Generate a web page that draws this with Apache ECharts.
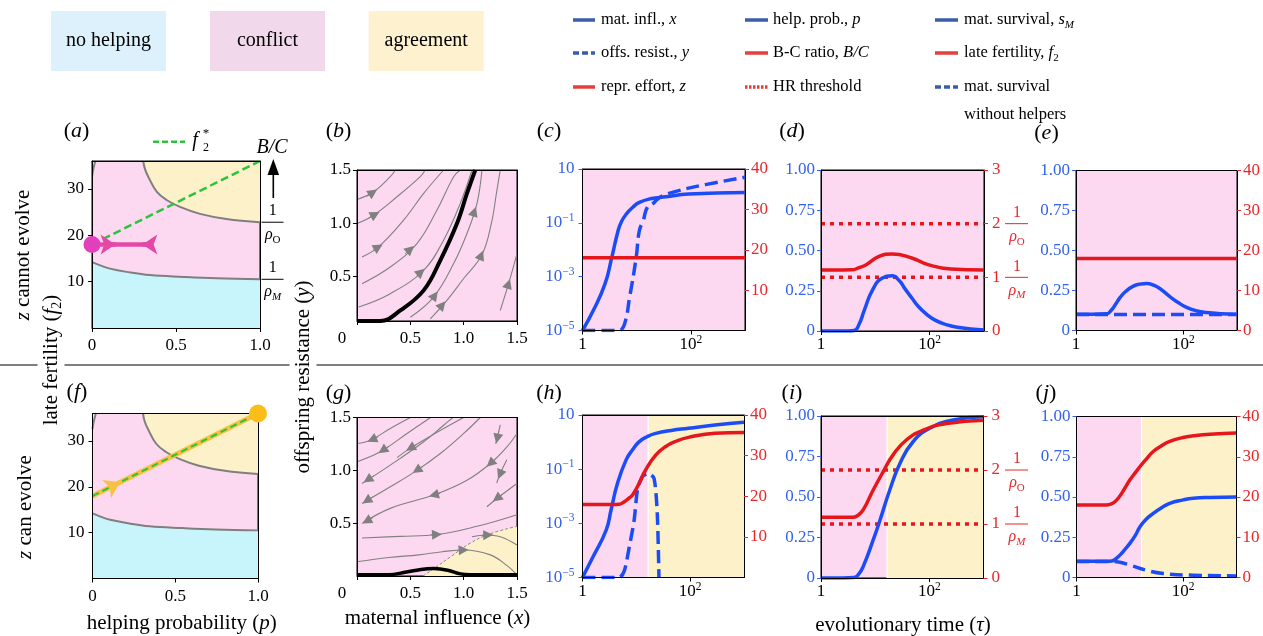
<!DOCTYPE html>
<html><head><meta charset="utf-8">
<script src="https://cdn.jsdelivr.net/npm/echarts@6/dist/echarts.min.js"></script>
<style>html,body{margin:0;padding:0;background:#fff}#c{width:1263px;height:636px}</style>
</head><body><div id="c"></div>
<script>
// ---------------- DATA ----------------
// panels (a),(f): region boundaries in (p, f2)
const pLow = [0, 0.048, 0.107, 0.206, 0.345, 0.544, 0.742, 1.0];
const fLow = [14.2, 13.5, 12.8, 12.1, 11.4, 11.0, 10.7, 10.5];
const pUp = [0.305, 0.315, 0.335, 0.385, 0.444, 0.524, 0.643, 0.8, 1.0];
const fUp = [36, 34.3, 32.6, 29.4, 27.6, 26.1, 24.6, 23.5, 22.8];
const pCorner = [0, 0.006, 0.02];
const fCorner = [32.6, 34.0, 36];
const f2StarP = [0, 1];
const f2StarF = [18, 36];
const magP = [0, 0.345];
const magF = [18, 18];
const magDot = [0, 18];
const magArrows = [[[0.08, 18], [0.14, 18]], [[0.345, 18], [0.30, 18]]];
const orangeDot = [1, 36];
const orangeArrows = [[[0.10, 19.8], [0.166, 20.99]]];

// panel (b): streamlines (x, y)
const bStream = [
  [[0,1.223],[0.156,1.295],[0.312,1.437],[0.36,1.5]],
  [[0,0.997],[0.156,1.075],[0.375,1.248],[0.593,1.437],[0.64,1.5]],
  [[0.047,0.682],[0.203,0.777],[0.437,1.028],[0.625,1.28],[0.812,1.5]],
  [[0.047,0.431],[0.312,0.588],[0.562,0.808],[0.75,1.123],[0.906,1.437],[0.968,1.5]],
  [[0.016,0.211],[0.312,0.337],[0.625,0.557],[0.812,0.84],[0.968,1.186],[1.078,1.5]],
  [[0.5,0.116],[0.718,0.305],[0.906,0.62],[1.031,0.903],[1.125,1.186],[1.171,1.5]],
  [[0.687,0.1],[0.843,0.274],[1.0,0.48],[1.17,0.7],[1.26,1.0],[1.31,1.3],[1.343,1.5]],
  [[1.343,0.179],[1.421,0.431],[1.5,0.714]]
];
const bBlack = [[0,0.08],[0.218,0.08],[0.406,0.179],[0.625,0.368],[0.781,0.651],[0.937,0.997],[1.031,1.28],[1.109,1.5]];
const bArrows = [
  [[0.09,1.25],[0.15,1.29]], [[0.11,1.05],[0.17,1.083]], [[0.15,0.745],[0.2,0.775]],
  [[0.45,0.71],[0.5,0.755]], [[0.56,0.505],[0.6,0.54]], [[0.7,0.28],[0.73,0.322]],
  [[1.085,1.065],[1.1,1.11]], [[0.77,0.195],[0.8,0.23]], [[1.15,0.665],[1.165,0.7]],
  [[1.41,0.4],[1.42,0.431]]
];

// panel (g)
const gBoundary = [[0.62,0],[0.75,0.09],[0.875,0.18],[1.06,0.31],[1.25,0.40],[1.5,0.47]];
const gStream = [
  [[0,1.254],[0.125,1.285],[0.312,1.396],[0.5,1.5]],
  [[0,1.081],[0.218,1.175],[0.469,1.349],[0.69,1.5]],
  [[0.047,0.876],[0.312,1.049],[0.625,1.27],[0.812,1.427],[0.9,1.5]],
  [[0.375,1.12],[0.5,1.21],[0.75,1.36],[1.0,1.5]],
  [[0.047,0.687],[0.312,0.844],[0.562,1.0],[0.781,1.159],[1.0,1.349],[1.156,1.5]],
  [[0.047,0.498],[0.312,0.64],[0.718,0.766],[1.031,0.907],[1.25,1.065],[1.405,1.222],[1.5,1.349]],
  [[0.047,0.36],[0.406,0.375],[0.75,0.392],[1.125,0.47],[1.5,0.58]],
  [[0,0.135],[0.3,0.175],[0.578,0.2],[0.8,0.23],[1.0,0.246],[1.25,0.2],[1.405,0.1],[1.5,0.01]],
  [[1.078,0.372],[1.203,0.388],[1.343,0.372],[1.5,0.293]],
  [[1.218,0.655],[1.312,0.734],[1.5,0.876]],
  [[1.31,0.88],[1.343,0.97],[1.405,1.1]],
  [[1.3,1.25],[1.32,1.33],[1.343,1.43]]
];
const gBlack = [[0,0.012],[0.3,0.012],[0.45,0.035],[0.6,0.062],[0.72,0.07],[0.85,0.055],[0.97,0.02],[1.06,0.012],[1.5,0.012]];
const gArrows = [
  [[0.2,1.318],[0.14,1.29]], [[0.3,1.23],[0.24,1.188]], [[0.16,0.95],[0.1,0.91]],
  [[0.56,1.245],[0.5,1.21]], [[0.15,0.75],[0.09,0.712]], [[0.62,1.04],[0.56,1.0]],
  [[0.15,0.553],[0.09,0.52]], [[0.78,0.782],[0.72,0.766]], [[1.3,1.11],[1.25,1.065]],
  [[0.69,0.389],[0.75,0.392]], [[0.94,0.242],[1.0,0.246]], [[1.17,0.386],[1.23,0.388]],
  [[1.36,0.77],[1.31,0.733]], [[1.36,1.01],[1.34,0.96]], [[1.33,1.37],[1.315,1.3]]
];

// panel (c)
const tC_x = [1, 1.58, 2.6, 3.44, 4.54, 5.25, 6.46, 8.5, 11.2, 17.8, 34.7, 91, 1000];
const vC_x = [1e-5, 5.5e-5, 5.4e-4, 4.8e-3, 0.051, 0.112, 0.214, 0.38, 0.575, 0.78, 0.93, 1.17, 1.35];
const tC_y = [1, 3.5, 4.9, 6.0, 7.4, 9.8, 11.2, 13.2, 15.8, 20, 24, 30, 60, 186, 1000];
const vC_y = [1e-5, 1e-5, 1.05e-5, 1.8e-5, 1.7e-4, 5.2e-3, 0.051, 0.12, 0.38, 0.52, 0.74, 1.0, 1.58, 2.63, 4.9];
const tC_z = [1, 1000];
const vC_z = [18, 18];
// panel (d)
const tD_bc = [1, 2.5, 3.7, 5.0, 6.8, 11.7, 20.4, 46.8, 93, 245, 1000];
const vD_bc = [1.137, 1.137, 1.14, 1.18, 1.236, 1.39, 1.436, 1.36, 1.236, 1.155, 1.137];
const tD_p = [1, 3.2, 4.1, 5.0, 6.3, 8.9, 13.5, 20.4, 28, 35.5, 47, 62, 87, 123, 200, 324, 1000];
const vD_p = [0, 0, 0.003, 0.04, 0.131, 0.256, 0.329, 0.343, 0.31, 0.26, 0.205, 0.152, 0.105, 0.069, 0.04, 0.023, 0.006];
const hrT = [1, 1000];
const hrVals = [1, 2];   // 1/rho_M, 1/rho_O
// panel (e)
const tE_s = [1, 2, 3.7, 4.5, 5.5, 6.6, 8.5, 11.7, 15.5, 20.9, 28, 38, 56, 80, 115, 180, 269, 500, 1000];
const vE_s = [0.102, 0.102, 0.104, 0.125, 0.165, 0.205, 0.245, 0.277, 0.29, 0.294, 0.283, 0.258, 0.212, 0.175, 0.145, 0.122, 0.112, 0.105, 0.102];
const tE_w = [1, 1000];
const vE_w = [0.1, 0.1];
const tE_f = [1, 1000];
const vE_f = [18, 18];
// panel (h)
const tH_x = [1, 1.57, 2.75, 3.39, 4.47, 6.46, 8.5, 11.2, 15.8, 22.9, 44.7, 93, 288, 1000];
const vH_x = [1e-5, 5.8e-5, 5.6e-4, 3.1e-3, 0.03, 0.22, 0.52, 1.02, 1.58, 2.09, 2.7, 3.24, 4.27, 5.37];
const tH_y = [1, 4.8, 6.0, 7.4, 9.1, 10.5, 12.9, 17, 21.4, 24.5, 26.3];
const vH_y = [1e-5, 1e-5, 1.8e-5, 1.35e-4, 1.3e-3, 0.017, 0.052, 0.069, 0.045, 2.3e-3, 1e-5];
const tH_z = [1, 3.5, 4.8, 5.6, 6.5, 7.4, 8.5, 11.2, 14.8, 22.9, 34.7, 56, 93, 288, 1000];
const vH_z = [18, 18, 18.05, 18.4, 19.0, 19.6, 20.3, 23.1, 26.4, 30.1, 32.2, 33.6, 34.5, 35.5, 35.7];
// panel (i)
const tI_bc = [1, 2.5, 3.85, 4.8, 6.0, 9.2, 14.1, 21.4, 38, 77.6, 209, 1000];
const vI_bc = [1.124, 1.124, 1.124, 1.16, 1.26, 1.63, 1.97, 2.28, 2.56, 2.74, 2.86, 2.92];
const tI_p = [1, 2.5, 4.1, 5.0, 6.0, 9.2, 12.3, 18.6, 28.8, 50, 102, 275, 1000];
const vI_p = [0, 0, 0.003, 0.025, 0.07, 0.235, 0.358, 0.543, 0.708, 0.841, 0.924, 0.975, 0.995];
// panel (j)
const tJ_f = [1, 2.5, 3.16, 4.0, 5.0, 6.3, 7.9, 10, 12.6, 15.8, 20, 27.5, 40, 56, 100, 155, 316, 1000];
const vJ_f = [18, 18, 18, 18.1, 18.6, 20.0, 22.0, 24.2, 26.0, 27.7, 29.3, 31.3, 32.8, 33.8, 34.8, 35.2, 35.6, 35.9];
const tJ_s = [1, 2.5, 3.6, 4.6, 5.2, 6.5, 7.9, 10, 12.6, 15.5, 20, 27.5, 40, 56, 100, 155, 316, 1000];
const vJ_s = [0.101, 0.101, 0.101, 0.103, 0.11, 0.139, 0.17, 0.212, 0.26, 0.315, 0.36, 0.398, 0.435, 0.461, 0.482, 0.492, 0.497, 0.5];
const tJ_w = [1, 3, 4.8, 6.5, 10, 20.4, 42.7, 155, 1000];
const vJ_w = [0.1, 0.1, 0.1, 0.095, 0.077, 0.045, 0.025, 0.014, 0.01];
const tSwitch = 16.6;   // conflict -> agreement
const tMax = 1000;

// tick labels
const xLabP = {vals:[0,0.5,1], labs:['0','0.5','1.0']};
const xLabX = {vals:[0,0.5,1,1.5], labs:['{z|0}','0.5','1.0','1.5']};
const yLabY = {vals:[0.5,1,1.5], labs:['0.5','1.0','1.5']};
const yLabF = {vals:[10,20,30], labs:['10','20','30']};
const xLabT = {vals:[1,100], labs:['1','10{sup|2}']};
const yLabLog = {vals:[1e-5,1e-3,1e-1,10], labs:['10{sup|−5}','10{sup|−3}','10{sup|−1}','10']};
const yLabFrac = {vals:[0,0.25,0.5,0.75,1], labs:['0','0.25','0.50','0.75','1.00']};
const yLabR40 = {vals:[10,20,30,40], labs:['10','20','30','40']};
const yLabR40z = {vals:[0,10,20,30,40], labs:['0','10','20','30','40']};
const yLabR3 = {vals:[0,1,2,3], labs:['0','1','2','3']};

// ---------------- STYLE ----------------
const FONT = 'Liberation Serif';
const GRAY = '#7f7f7f', PINK = '#fcd9f0', CYAN = '#c8f5fc', YEL = '#fdf1c9';
const BLUE = '#1c4cf5', RED = '#e6161d', BLUE_T = '#3362ee', RED_T = '#e8272b';
const GREEN = '#2cc33c', ORANGE = '#f7c142', ORANGE_DOT = '#fbbd18', MAG = '#e448a6', MAG_DOT = '#e23fbd';
const LEG_BLUE = '#3a5cab', LEG_RED = '#e4403c';
const DASH = [13, 6], DOT = [4, 5];
const SM = 0.5;

const zip = (a, b) => a.map((v, i) => [v, b[i]]);
function fmt(vals, labs) {
  return function (v) {
    for (let i = 0; i < vals.length; i++) {
      if (Math.abs(vals[i] - v) <= 1e-6 * Math.max(Math.abs(vals[i]), 1e-9)) return labs[i];
      if (vals[i] === 0 && Math.abs(v) < 1e-12) return labs[i];
    }
    return '';
  };
}
const AXR = {
  n: {fontFamily: FONT, fontSize: 17, lineHeight: 22},
  sup: {fontFamily: FONT, fontSize: 11.5, lineHeight: 11, verticalAlign: 'top'},
  z: {fontFamily: FONT, fontSize: 17, lineHeight: 22, padding: [0, 30, 0, 0]}
};
function mkAxis(o) {
  const color = o.color || '#000';
  const ax = {
    gridIndex: o.grid, type: o.type || 'value', position: o.pos, min: o.min, max: o.max, z: 10,
    axisLine: {show: true, onZero: false, lineStyle: {color: '#000', width: 1}},
    axisTick: {show: true, length: 4, customValues: o.lab.vals, lineStyle: {color: color, width: 1}},
    axisLabel: {show: true, customValues: o.lab.vals, formatter: fmt(o.lab.vals, o.lab.labs), color: color,
      fontFamily: FONT, fontSize: 17, lineHeight: 22, margin: o.margin == null ? 7 : o.margin, rich: AXR},
    splitLine: {show: false}, minorTick: {show: false}, minorSplitLine: {show: false}
  };
  if (ax.type === 'log') ax.logBase = 10;
  return ax;
}
function mkFrame(grid, pos) {
  return {gridIndex: grid, type: 'value', position: pos, z: 10,
    axisLine: {show: true, onZero: false, lineStyle: {color: '#000', width: 1}},
    axisTick: {show: false}, axisLabel: {show: false}, splitLine: {show: false}};
}

const GRIDS = [
  {left: 92, top: 161, width: 168, height: 167},
  {left: 357, top: 170, width: 160, height: 151},
  {left: 582.5, top: 169, width: 162.5, height: 161.5},
  {left: 821, top: 170, width: 163, height: 161},
  {left: 1076, top: 170.5, width: 161, height: 160},
  {left: 92.5, top: 413.5, width: 165.5, height: 165},
  {left: 357, top: 417.5, width: 160, height: 158.5},
  {left: 582.5, top: 415, width: 161.5, height: 162.5},
  {left: 821, top: 416, width: 162.5, height: 162},
  {left: 1076.5, top: 416.5, width: 160, height: 161}
];

const xAxes = [
  mkAxis({grid: 0, min: 0, max: 1, lab: xLabP, pos: 'bottom'}),
  mkAxis({grid: 1, min: 0, max: 1.5, lab: xLabX, pos: 'bottom'}),
  mkAxis({grid: 2, type: 'log', min: 1, max: tMax, lab: xLabT, pos: 'bottom', margin: 3}),
  mkAxis({grid: 3, type: 'log', min: 1, max: tMax, lab: xLabT, pos: 'bottom', margin: 3}),
  mkAxis({grid: 4, type: 'log', min: 1, max: tMax, lab: xLabT, pos: 'bottom', margin: 3}),
  mkAxis({grid: 5, min: 0, max: 1, lab: xLabP, pos: 'bottom'}),
  mkAxis({grid: 6, min: 0, max: 1.5, lab: xLabX, pos: 'bottom'}),
  mkAxis({grid: 7, type: 'log', min: 1, max: tMax, lab: xLabT, pos: 'bottom', margin: 3}),
  mkAxis({grid: 8, type: 'log', min: 1, max: tMax, lab: xLabT, pos: 'bottom', margin: 3}),
  mkAxis({grid: 9, type: 'log', min: 1, max: tMax, lab: xLabT, pos: 'bottom', margin: 3})
];
for (let g = 0; g < 10; g++) xAxes.push(mkFrame(g, 'top'));

const yAxes = [
  mkAxis({grid: 0, min: 0, max: 36, lab: yLabF, pos: 'left', margin: 8}),
  mkAxis({grid: 1, min: 0.08, max: 1.5, lab: yLabY, pos: 'left', margin: 6}),
  mkAxis({grid: 2, type: 'log', min: 1e-5, max: 10, lab: yLabLog, pos: 'left', color: BLUE_T, margin: 8}),
  mkAxis({grid: 3, min: 0, max: 1, lab: yLabFrac, pos: 'left', color: BLUE_T, margin: 6}),
  mkAxis({grid: 4, min: 0, max: 1, lab: yLabFrac, pos: 'left', color: BLUE_T, margin: 6}),
  mkAxis({grid: 5, min: 0, max: 36, lab: yLabF, pos: 'left', margin: 8}),
  mkAxis({grid: 6, min: 0, max: 1.5, lab: yLabY, pos: 'left', margin: 6}),
  mkAxis({grid: 7, type: 'log', min: 1e-5, max: 10, lab: yLabLog, pos: 'left', color: BLUE_T, margin: 8}),
  mkAxis({grid: 8, min: 0, max: 1, lab: yLabFrac, pos: 'left', color: BLUE_T, margin: 6}),
  mkAxis({grid: 9, min: 0, max: 1, lab: yLabFrac, pos: 'left', color: BLUE_T, margin: 6}),
  mkAxis({grid: 2, min: 0, max: 40, lab: yLabR40, pos: 'right', color: RED_T, margin: 6}),   // 10
  mkAxis({grid: 3, min: 0, max: 3, lab: yLabR3, pos: 'right', color: RED_T, margin: 8}),     // 11
  mkAxis({grid: 4, min: 0, max: 40, lab: yLabR40z, pos: 'right', color: RED_T, margin: 6}),  // 12
  mkAxis({grid: 7, min: 0, max: 40, lab: yLabR40, pos: 'right', color: RED_T, margin: 6}),   // 13
  mkAxis({grid: 8, min: 0, max: 3, lab: yLabR3, pos: 'right', color: RED_T, margin: 8}),     // 14
  mkAxis({grid: 9, min: 0, max: 40, lab: yLabR40z, pos: 'right', color: RED_T, margin: 6})   // 15
];
[0, 1, 5, 6].forEach(g => yAxes.push(mkFrame(g, 'right')));

// ---------------- SERIES ----------------
function line(xi, yi, data, color, width, dash, smooth, extra) {
  const s = {type: 'line', xAxisIndex: xi, yAxisIndex: yi, data: data, symbol: 'none',
    smooth: smooth == null ? SM : smooth, silent: true, animation: false, z: 2,
    lineStyle: {color: color, width: width, type: dash || 'solid', cap: 'butt'}};
  return Object.assign(s, extra || {});
}
function arrows(xi, yi, list, color, size, width, sym) {
  return {type: 'lines', coordinateSystem: 'cartesian2d', xAxisIndex: xi, yAxisIndex: yi, polyline: false,
    silent: true, animation: false, symbol: ['none', sym || 'triangle'], symbolSize: size, z: 3,
    lineStyle: {color: color, width: width, opacity: 1, curveness: 0},
    data: list.map(c => ({coords: c}))};
}
function dot(xi, yi, pt, color, size) {
  return {type: 'scatter', xAxisIndex: xi, yAxisIndex: yi, data: [pt], symbolSize: size, clip: false,
    itemStyle: {color: color, opacity: 1}, z: 12, silent: true, animation: false};
}
const S = [];
// (a) and (f) regions
[0, 5].forEach(g => {
  S.push(line(g, g, zip(pLow, fLow), GRAY, 2, null, 0.4, {areaStyle: {color: CYAN, origin: 'start', opacity: 1}}));
  S.push(line(g, g, zip(pUp, fUp), GRAY, 2, null, 0.4, {areaStyle: {color: YEL, origin: 'end', opacity: 1}}));
  S.push(line(g, g, zip(pCorner, fCorner), GRAY, 2, null, 0.4, {areaStyle: {color: YEL, origin: 'end', opacity: 1}}));
});
S.push(line(0, 0, zip(f2StarP, f2StarF), GREEN, 2.5, [8, 4], 0));
S.push(line(0, 0, zip(magP, magF), MAG, 4.5, null, 0));
S.push(arrows(0, 0, magArrows, MAG, 15, 4.5, 'arrow'));
S.push(dot(0, 0, magDot, MAG_DOT, 17));
S.push(line(5, 5, zip(f2StarP, f2StarF), ORANGE, 5, null, 0));
S.push(line(5, 5, zip(f2StarP, f2StarF), GREEN, 2, [7, 4], 0));
S.push(arrows(5, 5, orangeArrows, ORANGE, 15, 2, 'arrow'));
S.push(dot(5, 5, orangeDot, ORANGE_DOT, 18));
// (b)
bStream.forEach(d => S.push(line(1, 1, d, '#808080', 1.1, null, 0.4)));
S.push(line(1, 1, bBlack, '#000', 4, null, 0.4));
S.push(arrows(1, 1, bArrows, '#808080', 10, 1));
// (g)
S.push(line(6, 6, gBoundary, '#8a8a8a', 1, [3, 2], 0.4, {areaStyle: {color: YEL, origin: 'start', opacity: 1}}));
gStream.forEach(d => S.push(line(6, 6, d, '#808080', 1.1, null, 0.4)));
S.push(line(6, 6, gBlack, '#000', 3.5, null, 0.4));
S.push(arrows(6, 6, gArrows, '#808080', 10, 1));
// (c)
S.push(line(2, 2, zip(tC_x, vC_x), BLUE, 3.5));
S.push(line(2, 2, zip(tC_y, vC_y), BLUE, 3.5, DASH));
S.push(line(2, 10, zip(tC_z, vC_z), RED, 3.5, null, 0));
// (d)
hrVals.forEach(v => S.push(line(3, 11, hrT.map(t => [t, v]), RED, 3.5, DOT, 0)));
S.push(line(3, 11, zip(tD_bc, vD_bc), RED, 3.5));
S.push(line(3, 3, zip(tD_p, vD_p), BLUE, 3.5));
// (e)
S.push(line(4, 12, zip(tE_f, vE_f), RED, 3.5, null, 0));
S.push(line(4, 4, zip(tE_w, vE_w), BLUE, 3.5, DASH, 0));
S.push(line(4, 4, zip(tE_s, vE_s), BLUE, 3.5));
// (h),(i),(j) background split + white divider
[[7, 13, 40], [8, 14, 3], [9, 15, 40]].forEach(([g, yi, top]) => {
  S.push(line(g, yi, [[tSwitch, 0], [tSwitch, top]], '#ffffff', 1.3, null, 0, {
    markArea: {silent: true, itemStyle: {color: YEL}, data: [[{xAxis: tSwitch}, {xAxis: tMax}]]}
  }));
});
// (h)
S.push(line(7, 7, zip(tH_x, vH_x), BLUE, 3.5));
S.push(line(7, 7, zip(tH_y, vH_y), BLUE, 3.5, DASH, 0.25));
S.push(line(7, 13, zip(tH_z, vH_z), RED, 3.5));
// (i)
hrVals.forEach(v => S.push(line(8, 14, hrT.map(t => [t, v]), RED, 3.5, DOT, 0)));
S.push(line(8, 8, zip(tI_p, vI_p), BLUE, 3.5));
S.push(line(8, 14, zip(tI_bc, vI_bc), RED, 3.5));
// (j)
S.push(line(9, 15, zip(tJ_f, vJ_f), RED, 3.5));
S.push(line(9, 9, zip(tJ_s, vJ_s), BLUE, 3.5));
S.push(line(9, 9, zip(tJ_w, vJ_w), BLUE, 3.5, DASH));

// ---------------- GRAPHICS ----------------
function RT(fs) {
  const lh = Math.round(fs * 1.3), s = Math.round(fs * 0.66);
  return {
    i: {fontFamily: FONT, fontSize: fs, fontStyle: 'italic', lineHeight: lh},
    n: {fontFamily: FONT, fontSize: fs, lineHeight: lh},
    sub: {fontFamily: FONT, fontSize: s, lineHeight: s, verticalAlign: 'bottom'},
    subi: {fontFamily: FONT, fontSize: s, fontStyle: 'italic', lineHeight: s, verticalAlign: 'bottom'},
    sup: {fontFamily: FONT, fontSize: s, lineHeight: s, verticalAlign: 'top'}
  };
}
function txt(x, y, text, fs, o) {
  o = o || {};
  const st = {text: text, fontFamily: FONT, fontSize: fs, fontStyle: o.italic ? 'italic' : 'normal',
    fill: o.color || '#000', align: o.align || 'center', verticalAlign: 'middle',
    lineHeight: Math.round(fs * 1.3), rich: RT(fs)};
  if (o.bg) { st.backgroundColor = o.bg; st.padding = [0, 4]; }
  return {type: 'text', x: x, y: y, rotation: o.rot || 0, z: 100, silent: true, style: st};
}
function hline(x1, x2, y, color, w, dash) {
  return {type: 'line', z: 90, silent: true, shape: {x1: x1, y1: y, x2: x2, y2: y},
    style: {stroke: color, lineWidth: w, lineDash: dash || null}};
}
const G = [];
// separator
G.push(hline(0, 1263, 365, '#000', 1.2));
// region legend boxes
[[51, '#dcf1fc', 'no helping'], [210, '#f1d9eb', 'conflict'], [368.7, '#fef1d0', 'agreement']].forEach(([x, c, t]) => {
  G.push({type: 'rect', z: 80, silent: true, shape: {x: x, y: 11, width: 115, height: 60}, style: {fill: c}});
  G.push(txt(x + 57.5, 41, t, 20));
});
// line legend
const legRows = [20, 53, 87];
const legCols = [[573, 595, 601], [745, 768, 773], [935, 958, 964]];
const legItems = [
  [0, 0, LEG_BLUE, null, 'mat. infl., {i|x}'],
  [0, 1, LEG_BLUE, [6, 3], 'offs. resist., {i|y}'],
  [0, 2, LEG_RED, null, 'repr. effort, {i|z}'],
  [1, 0, LEG_BLUE, null, 'help. prob., {i|p}'],
  [1, 1, LEG_RED, null, 'B-C ratio, {i|B/C}'],
  [1, 2, LEG_RED, [2.5, 1.5], 'HR threshold'],
  [2, 0, LEG_BLUE, null, 'mat. survival, {i|s}{subi|M}'],
  [2, 1, LEG_RED, null, 'late fertility, {i|f}{sub|2}'],
  [2, 2, LEG_BLUE, [6, 3], 'mat. survival']
];
legItems.forEach(([c, r, col, dash, t]) => {
  const [x0, x1, xt] = legCols[c];
  G.push(hline(x0, x1, legRows[r], col, 3.5, dash));
  G.push(txt(xt, legRows[r], t, 16.5, {align: 'left'}));
});
G.push(txt(964, 115, 'without helpers', 16.5, {align: 'left'}));
// panel letters
[['a', 76.5, 131.5], ['b', 338.5, 131.5], ['c', 549, 131], ['d', 792, 131], ['e', 1046.5, 133],
 ['f', 77, 392], ['g', 338.5, 393], ['h', 549, 393], ['i', 792, 393], ['j', 1046, 393]].forEach(([l, x, y]) => {
  G.push(txt(x, y, '({i|' + l + '})', 22));
});
// axis titles
G.push(txt(181.7, 623, 'helping probability ({i|p})', 21));
G.push(txt(437.5, 618, 'maternal influence ({i|x})', 21));
G.push(txt(903, 625, 'evolutionary time ({i|τ})', 21));
G.push(txt(23, 255, '{i|z} cannot evolve', 21, {rot: Math.PI / 2}));
G.push(txt(25, 507, '{i|z} can evolve', 21, {rot: Math.PI / 2}));
G.push(txt(51, 360, 'late fertility ({i|f}{sub|2})', 21, {rot: Math.PI / 2, bg: '#fff'}));
G.push(txt(303, 377, 'offspring resistance ({i|y})', 21, {rot: Math.PI / 2, bg: '#fff'}));
// f2* legend in (a)
G.push(hline(153, 185, 141.7, GREEN, 2.5, [6, 3]));
G.push(txt(195, 141, 'f', 20, {italic: true}));
G.push(txt(206, 134, '*', 13));
G.push(txt(206, 148, '2', 12));
// B/C arrow
G.push({type: 'line', z: 90, silent: true, shape: {x1: 273.3, y1: 198, x2: 273.3, y2: 170}, style: {stroke: '#000', lineWidth: 1.6}});
G.push({type: 'polygon', z: 90, silent: true, shape: {points: [[273.3, 159], [267.5, 175], [279.1, 175]]}, style: {fill: '#000'}});
G.push(txt(272, 148, 'B/C', 20, {italic: true}));

const option = {
  animation: false, backgroundColor: '#fff', textStyle: {fontFamily: FONT},
  grid: GRIDS.map(g => Object.assign({show: true, backgroundColor: PINK, borderColor: '#000', borderWidth: 1, containLabel: false}, g)),
  xAxis: xAxes, yAxis: yAxes, series: S, graphic: G
};
const chart = echarts.init(document.getElementById('c'), null, {renderer: 'canvas', width: 1263, height: 636});
chart.setOption(option);

// fraction labels anchored to axis values
function frac(xc, xl, xr, y, sub, subStyle, color) {
  G.push(hline(xl, xr, y, color, 1));
  G.push(txt(xc, y - 11, '1', 16, {color: color}));
  G.push(txt(xc, y + 13, '{i|ρ}{' + subStyle + '|' + sub + '}', 16, {color: color}));
}
const yA_O = chart.convertToPixel({yAxisIndex: 0}, fUp[fUp.length - 1]);
const yA_M = chart.convertToPixel({yAxisIndex: 0}, fLow[fLow.length - 1]);
frac(272.7, 261.5, 283.5, yA_O, 'O', 'sub', '#000');
frac(272.7, 261.5, 283.5, yA_M, 'M', 'subi', '#000');
[11, 14].forEach(yi => {
  frac(1017, 1005, 1028, chart.convertToPixel({yAxisIndex: yi}, hrVals[1]), 'O', 'sub', RED_T);
  frac(1017, 1005, 1028, chart.convertToPixel({yAxisIndex: yi}, hrVals[0]), 'M', 'subi', RED_T);
});
chart.setOption({graphic: G});
</script></body></html>
